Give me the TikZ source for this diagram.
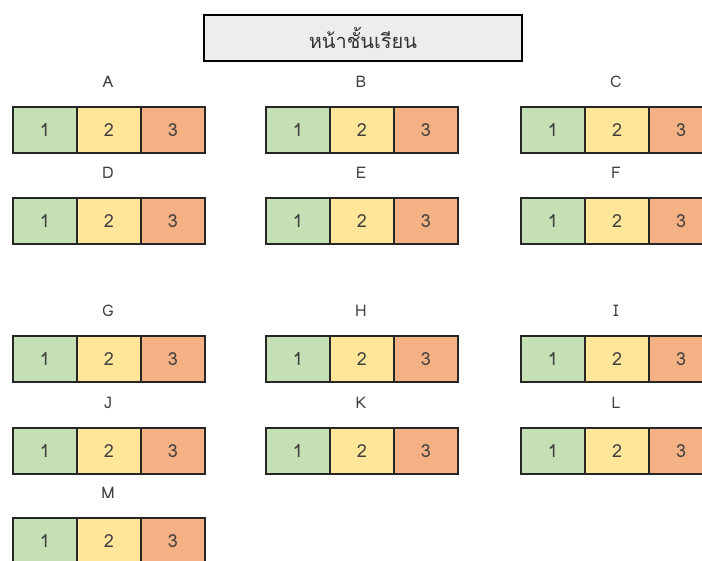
\documentclass[tikz,border=0pt]{standalone}
\usepackage{fontspec}
\setmainfont{Loma}[Script=Thai]
\definecolor{cg}{HTML}{C5E0B4}
\definecolor{cy}{HTML}{FFE699}
\definecolor{co}{HTML}{F4B183}
\definecolor{tx}{HTML}{404040}
\definecolor{hd}{HTML}{EDEDED}
\tikzset{
  cell/.style={draw=black!85, line width=2pt, minimum width=64pt, minimum height=46pt, inner sep=0pt, anchor=north west, text=tx, font=\fontsize{18}{18}\selectfont},
  grp/.style={text=tx, font=\fontsize{16}{16}\selectfont, inner sep=0pt},
  head/.style={draw=black, line width=1.8pt, fill=hd, minimum width=318pt, minimum height=46pt, inner sep=0pt, anchor=north west, text=black!80, font=\fontsize{20}{20}\selectfont}
}
\begin{document}
\begin{tikzpicture}[x=1pt,y=-1pt]
\useasboundingbox (0,0) rectangle (702,560);
\clip (0,0) rectangle (702,560);
\fill[white] (0,0) rectangle (702,560);
\node[head] (front) at (203,14) {หน้าชั้นเรียน};
\foreach \n/\x/\y in {A/12/106,B/265/106,C/520/106,D/12/197,E/265/197,F/520/197,G/12/335,H/265/335,I/520/335,J/12/427,K/265/427,L/520/427,M/12/517}{
  \node[grp] (l\n) at (\x+96,\y-24) {\n};
  \node[cell, fill=cg] (\n1) at (\x,\y) {1};
  \node[cell, fill=cy] (\n2) at (\x+64,\y) {2};
  \node[cell, fill=co] (\n3) at (\x+128,\y) {3};
}
\end{tikzpicture}
\end{document}
